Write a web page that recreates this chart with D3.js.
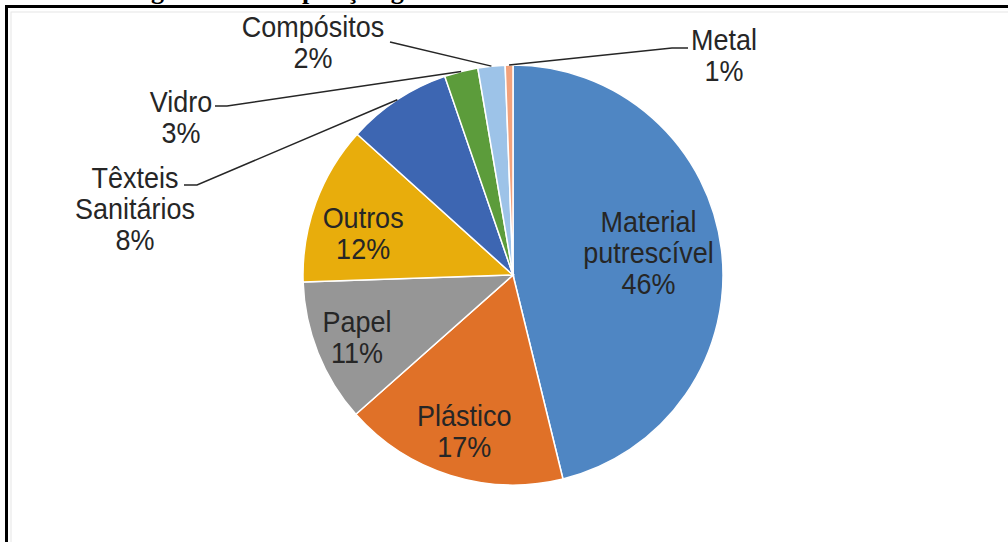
<!DOCTYPE html>
<html>
<head>
<meta charset="utf-8">
<script src="https://cdn.jsdelivr.net/npm/d3@7"></script>
<style>
  body { margin: 0; background: #fff; }
  svg { display: block; }
  text { font-family: "Liberation Sans", Arial, sans-serif; fill: #262626; }
</style>
</head>
<body>
<div id="chart"></div>
<script>
// categories, clockwise from 12 o'clock
const categories = ['Material putrescível', 'Plástico', 'Papel', 'Outros', 'Têxteis Sanitários', 'Vidro', 'Compósitos', 'Metal'];
// share of each category
const values = [46.5, 17.4, 11.1, 12.3, 8.1, 2.6, 2.1, 0.6];
// percentages as printed on the chart
const percentLabels = ['46%', '17%', '11%', '12%', '8%', '3%', '2%', '1%'];
// label text split in lines
const labelLines = [['Material', 'putrescível'], ['Plástico'], ['Papel'], ['Outros'], ['Têxteis', 'Sanitários'], ['Vidro'], ['Compósitos'], ['Metal']];
const colors = ['#4f86c3', '#e07128', '#969696', '#e8ad0c', '#3d66b2', '#5c9c3b', '#9dc3e8', '#f2a27c'];

const width = 1008, height = 542;
const cx = 513, cy = 275, radius = 210;
const fontSize = 27, lineH = 31, stretchY = 1.12;

// where the labels inside the pie sit: fraction of the radius and a vertical nudge
const insideLabel = {
    'Material putrescível': { r: 0.65, dy: -6 },
    'Plástico': { r: 0.78, dy: 0 },
    'Papel': { r: 0.8, dy: 0 },
    'Outros': { r: 0.76, dy: 13 }
};

// callout text anchors (centre x, first baseline), elbow of the leader and end of its stub
const callouts = {
    'Têxteis Sanitários': { x: 135, y: 188, elbow: [197, 185], stub: 184 },
    'Vidro': { x: 181, y: 112, elbow: [227, 106], stub: 215 },
    'Compósitos': { x: 313, y: 37, elbow: [390, 42], stub: 390 },
    'Metal': { x: 724, y: 50, elbow: [672, 48], stub: 688 }
};

const svg = d3.select('#chart').append('svg')
    .attr('width', width)
    .attr('height', height);

// title of the figure, cut off by the top of the picture
svg.append('text')
    .attr('x', 112)
    .attr('y', -1)
    .style('font-family', '"Liberation Serif", "Times New Roman", serif')
    .style('font-weight', 'bold')
    .style('font-size', '26px')
    .style('fill', '#000')
    .text('Origem e da composição gravimétrica dos resíduos');

// frame
svg.append('rect')
    .attr('x', 11).attr('y', 12)
    .attr('width', 1020).attr('height', 560)
    .attr('fill', 'none')
    .attr('stroke', '#e6e6e6')
    .attr('stroke-width', 1);
svg.append('rect')
    .attr('x', 6.5).attr('y', 6.5)
    .attr('width', 1020).attr('height', 560)
    .attr('fill', 'none')
    .attr('stroke', '#000')
    .attr('stroke-width', 3);

const pie = d3.pie().sort(null).value(d => d);
const arcs = pie(values);
const arc = d3.arc().innerRadius(0).outerRadius(radius);
const edgeArc = d3.arc().innerRadius(radius).outerRadius(radius);

const g = svg.append('g').attr('transform', `translate(${cx},${cy})`);

g.selectAll('path.slice')
    .data(arcs)
    .join('path')
    .attr('class', 'slice')
    .attr('d', arc)
    .attr('fill', (d, i) => colors[i])
    .attr('stroke', '#fff')
    .attr('stroke-width', 1.5);

// one text element per line, stretched a little in height like the original
function drawLabel(parent, x, y, lines) {
    lines.forEach((l, k) => {
        parent.append('text')
            .attr('transform', `translate(${x},${y + k * lineH}) scale(1,${stretchY})`)
            .attr('text-anchor', 'middle')
            .style('font-size', fontSize + 'px')
            .text(l);
    });
}

arcs.forEach((d, i) => {
    const name = categories[i];
    const lines = labelLines[i].concat([percentLabels[i]]);
    const c = callouts[name];
    if (c) {
        // leader line from the slice edge to the text
        const p = edgeArc.centroid(d);
        const tip = [cx + p[0], cy + p[1]];
        svg.append('polyline')
            .attr('points', [tip, c.elbow, [c.stub, c.elbow[1]]].map(q => q.join(',')).join(' '))
            .attr('fill', 'none')
            .attr('stroke', '#262626')
            .attr('stroke-width', 1.5);
        drawLabel(svg, c.x, c.y, lines);
    } else {
        const L = insideLabel[name];
        const r = radius * L.r;
        const p = d3.arc().innerRadius(r).outerRadius(r).centroid(d);
        const n = lines.length;
        drawLabel(g, p[0], p[1] - (n - 1) * lineH / 2 + 10 + L.dy, lines);
    }
});
</script>
</body>
</html>
